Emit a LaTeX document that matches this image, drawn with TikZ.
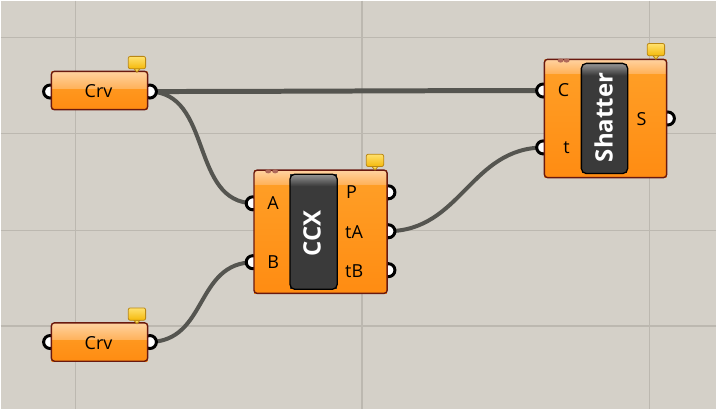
\documentclass[tikz,border=0pt]{standalone}
\usepackage{fontspec}
\setmainfont{Open Sans}
\usetikzlibrary{calc}
\definecolor{canvas}{RGB}{212,208,200}
\definecolor{gridc}{RGB}{188,184,176}
\definecolor{ghor}{RGB}{255,160,40}
\definecolor{ghorlow}{RGB}{255,140,18}
\definecolor{ghhi}{RGB}{255,210,160}
\definecolor{ghhi2}{RGB}{255,178,90}
\definecolor{ghedge}{RGB}{105,25,15}
\definecolor{wirec}{RGB}{85,85,80}
\definecolor{tagy}{RGB}{245,185,10}
\definecolor{tagyl}{RGB}{255,225,110}
\definecolor{tagedge}{RGB}{185,135,20}
\definecolor{paneld}{RGB}{58,58,58}
\definecolor{panelhi}{RGB}{150,150,150}
\definecolor{dotc}{RGB}{175,105,90}
\newcommand\ghframe[2]{%
  \begin{scope}
    \clip[rounded corners=3pt] (#1.south west) rectangle (#1.north east);
    \shade[top color=ghhi, bottom color=ghhi2] (#1.north west) rectangle ($(#1.north east)+(0,#2)$);
  \end{scope}
  \draw[ghedge, line width=1.4pt, rounded corners=3pt] (#1.south west) rectangle (#1.north east);}
\newcommand\ghpanel[1]{%
  \begin{scope}
    \clip[rounded corners=5pt] (#1.south west) rectangle (#1.north east);
    \shade[top color=panelhi, bottom color=paneld] (#1.north west) rectangle ($(#1.north east)+(0,12)$);
  \end{scope}
  \draw[black, line width=1.3pt, rounded corners=5pt] (#1.south west) rectangle (#1.north east);}
\newcommand\ghtag[1]{%
  \shade[top color=tagyl, bottom color=tagy, draw=tagedge, line width=0.8pt]
    ($(#1.south)+(-3,0)$) -- ($(#1.south)+(0,3.5)$) -- ($(#1.south)+(3,0)$) -- cycle;
  \shade[top color=tagyl, bottom color=tagy, draw=tagedge, line width=0.8pt, rounded corners=2pt]
    (#1.south west) rectangle (#1.north east);}
\begin{document}
\begin{tikzpicture}[x=1pt,y=-1pt,
  wire/.style={draw=wirec, line width=4pt},
  portc/.style={draw=black, fill=white, line width=3pt},
  ghbox/.style={rectangle, inner sep=0pt, top color=ghor, bottom color=ghorlow},
  panel/.style={rectangle, inner sep=0pt, fill=paneld},
  tagbox/.style={rectangle, inner sep=0pt, minimum width=17pt, minimum height=12pt},
  plabel/.style={font=\fontsize{18}{18}\selectfont, text=black, inner sep=0pt},
  ptitle/.style={font=\bfseries\fontsize{24}{24}\selectfont, text=white, inner sep=0pt, rotate=90}]
% canvas
\fill[canvas] (0,0) rectangle (717,409);
\foreach \gx in {75,362,650} \draw[gridc, line width=1.4pt] (\gx,0) -- (\gx,409);
\foreach \gy in {37,133,230,326} \draw[gridc, line width=1.4pt] (0,\gy) -- (717,\gy);
% ports
\coordinate (crv1in) at (51,91);
\coordinate (crv1out) at (148,91);
\coordinate (crv2in) at (51,342);
\coordinate (crv2out) at (148,342);
\coordinate (ccxA) at (254,203);
\coordinate (ccxB) at (254,262);
\coordinate (ccxP) at (387,192);
\coordinate (ccxtA) at (387,231);
\coordinate (ccxtB) at (387,270);
\coordinate (shC) at (545,90);
\coordinate (sht) at (545,147);
\coordinate (shS) at (667,118);
% wires
\draw[wire, line width=5pt] (crv1out) .. controls +(120,0) and +(-120,0) .. (shC);
\draw[wire] (crv1out) .. controls +(65,0) and +(-65,0) .. (ccxA);
\draw[wire] (crv2out) .. controls +(60,0) and +(-60,0) .. (ccxB);
\draw[wire] (ccxtA) .. controls +(75,0) and +(-75,0) .. (sht);
% port circles
\foreach \p in {crv1in,crv2in,ccxA,ccxB,shC,sht} \draw[portc] ($(\p)+(-1.5,0)$) circle (6.5);
\foreach \p in {crv1out,crv2out,ccxP,ccxtA,ccxtB,shS} \draw[portc] ($(\p)+(1.5,0)$) circle (6.5);
% Crv boxes
\node[ghbox, minimum width=96pt, minimum height=38pt] (crv1) at (99,90) {};
\ghframe{crv1}{17}
\node[plabel] (crv1t) at (98,91) {Crv};
\node[ghbox, minimum width=96pt, minimum height=38pt] (crv2) at (99,342) {};
\ghframe{crv2}{17}
\node[plabel] (crv2t) at (98,343) {Crv};
% CCX
\node[ghbox, minimum width=133pt, minimum height=123pt] (ccx) at (320.5,231.5) {};
\ghframe{ccx}{14}
\node[panel, minimum width=47pt, minimum height=115pt] (ccxpanel) at (313.5,231.5) {};
\ghpanel{ccxpanel}
\node[ptitle] (ccxtitle) at (312,233) {CCX};
\node[plabel] (lA) at (273,203) {A};
\node[plabel] (lB) at (273,262) {B};
\node[plabel, anchor=west] (lP) at (346,192) {P};
\node[plabel, anchor=west] (ltA) at (345,232) {tA};
\node[plabel, anchor=west] (ltB) at (345,271) {tB};
\fill[dotc] (268,171) ellipse (3 and 2);
\fill[dotc] (275,171) ellipse (3 and 2);
% Shatter
\node[ghbox, minimum width=122pt, minimum height=118pt] (sh) at (606,118) {};
\ghframe{sh}{14}
\node[panel, minimum width=46pt, minimum height=110pt] (shpanel) at (605,118) {};
\ghpanel{shpanel}
\node[ptitle] (shtitle) at (604,117) {Shatter};
\node[plabel] (lC) at (564,90) {C};
\node[plabel] (lt) at (567,147) {t};
\node[plabel] (lS) at (642,119) {S};
\fill[dotc] (561,60) ellipse (3 and 2);
\fill[dotc] (567,60) ellipse (3 and 2);
% tags
\node[tagbox] (tag1) at (136.5,62) {};
\ghtag{tag1}
\node[tagbox] (tag2) at (136.5,314) {};
\ghtag{tag2}
\node[tagbox] (tag3) at (375,160) {};
\ghtag{tag3}
\node[tagbox] (tag4) at (656.5,49) {};
\ghtag{tag4}
\useasboundingbox (0,0) rectangle (717,409);
\end{tikzpicture}
\end{document}
